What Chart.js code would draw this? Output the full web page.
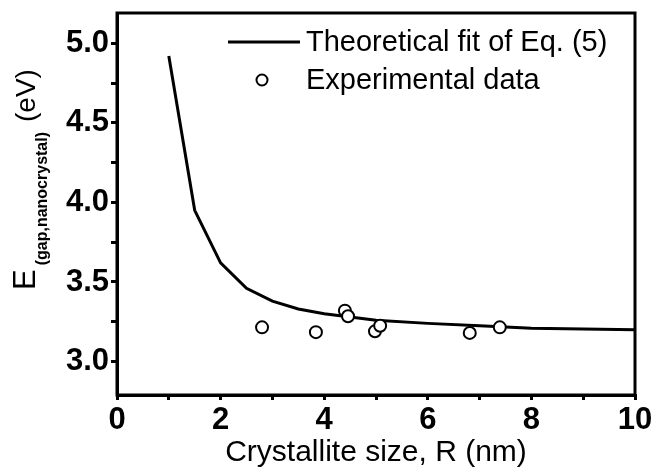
<!DOCTYPE html>
<html>
<head>
<meta charset="utf-8">
<script src="https://cdn.jsdelivr.net/npm/chart.js@4.4.0/dist/chart.umd.min.js"></script>
<style>
  html, body { margin: 0; padding: 0; background: #fff; }
  #wrap { width: 657px; height: 471px; }
</style>
</head>
<body>
<div id="wrap"><canvas id="chart" width="657" height="471"></canvas></div>
<script>
// theoretical fit (Eq. 5)
const fitR = [1, 1.5, 2, 2.5, 3, 3.5, 4, 5, 6, 7, 8, 9, 10];
const fitE = [4.92, 3.95, 3.62, 3.46, 3.38, 3.33, 3.30, 3.26, 3.24, 3.225, 3.21, 3.205, 3.20];

// experimental points
const expR = [2.8, 3.84, 4.40, 4.46, 4.98, 5.08, 6.81, 7.39];
const expE = [3.215, 3.185, 3.32, 3.285, 3.19, 3.225, 3.18, 3.215];

const xTicks = [0, 1, 2, 3, 4, 5, 6, 7, 8, 9, 10];
const yTicks = [3.0, 3.25, 3.5, 3.75, 4.0, 4.25, 4.5, 4.75, 5.0];

const legendLabels = ['Theoretical fit of Eq. (5)', 'Experimental data'];
const xTitle = 'Crystallite size, R (nm)';

const FONT = '"Liberation Sans", Arial, Helvetica, sans-serif';
let ctx = document.getElementById('chart').getContext('2d');

function toPts(xs, ys) {
    let out = [];
    for (let i = 0; i < xs.length; i++) out.push({ x: xs[i], y: ys[i] });
    return out;
}

// frame, y title with subscript, legend
const extras = {
    id: 'extras',
    afterDraw(chart) {
        const c = chart.ctx;
        const a = chart.chartArea;
        c.save();
        c.strokeStyle = '#000';
        c.lineWidth = 3;
        c.strokeRect(a.left, a.top, a.right - a.left, a.bottom - a.top);

        // y axis title: E_(gap,nanocrystal) (eV)
        c.fillStyle = '#000';
        c.translate(35, 290);
        c.rotate(-Math.PI / 2);
        c.textAlign = 'left';
        c.textBaseline = 'alphabetic';
        c.font = '31px ' + FONT;
        c.fillText('E', 0, 0);
        let w = c.measureText('E').width + 4;
        c.font = 'bold 16px ' + FONT;
        c.fillText('(gap,nanocrystal)', w, 12);
        w += c.measureText('(gap,nanocrystal)').width + 10;
        c.font = '28px ' + FONT;
        c.fillText('(eV)', w, 0);
        c.restore();

        // legend
        c.save();
        const lx = 228, ly1 = 42, ly2 = 80;
        c.strokeStyle = '#000';
        c.lineWidth = 3;
        c.beginPath();
        c.moveTo(lx, ly1);
        c.lineTo(lx + 72, ly1);
        c.stroke();
        c.lineWidth = 2;
        c.fillStyle = '#fff';
        c.beginPath();
        c.arc(lx + 34, ly2, 5.5, 0, Math.PI * 2);
        c.fill();
        c.stroke();
        c.fillStyle = '#000';
        c.font = '29px ' + FONT;
        c.textBaseline = 'middle';
        c.fillText(legendLabels[0], 306, ly1 + 1);
        c.fillText(legendLabels[1], 306, ly2 + 1);
        c.restore();
    }
};

let chart = new Chart(ctx, {
    type: 'scatter',
    data: {
        datasets: [{
            label: legendLabels[0],
            data: toPts(fitR, fitE),
            showLine: true,
            borderColor: '#000',
            borderWidth: 3,
            pointRadius: 0,
            tension: 0,
            order: 2
        }, {
            label: legendLabels[1],
            data: toPts(expR, expE),
            showLine: false,
            pointRadius: 6,
            pointBorderWidth: 2,
            pointBorderColor: '#000',
            pointBackgroundColor: '#fff',
            order: 1
        }]
    },
    options: {
        responsive: false,
        animation: false,
        layout: { padding: { top: 13, right: 22, left: 0, bottom: 0 } },
        plugins: { legend: { display: false }, tooltip: { enabled: false } },
        scales: {
            x: {
                type: 'linear',
                min: 0,
                max: 10,
                afterBuildTicks: s => { s.ticks = xTicks.map(v => ({ value: v })); },
                afterFit: s => { s.height = 76; s.paddingLeft = 0; s.paddingRight = 0; },
                border: { color: '#000', width: 3 },
                grid: { drawOnChartArea: false, color: '#000', lineWidth: 3, tickLength: 5 },
                ticks: {
                    color: '#000',
                    padding: 2,
                    maxRotation: 0,
                    font: { family: FONT, size: 31, weight: 'bold' },
                    callback: v => (v % 2 === 0 ? String(v) : '')
                },
                title: {
                    display: true,
                    text: xTitle,
                    color: '#000',
                    font: { family: FONT, size: 30 },
                    padding: { top: 0, bottom: 0 }
                }
            },
            y: {
                type: 'linear',
                min: 2.79,
                max: 5.19,
                afterBuildTicks: s => { s.ticks = yTicks.map(v => ({ value: v })); },
                afterFit: s => { s.width = 117; s.paddingTop = 0; s.paddingBottom = 0; },
                border: { color: '#000', width: 3 },
                grid: { drawOnChartArea: false, color: '#000', lineWidth: 3, tickLength: 6 },
                ticks: {
                    color: '#000',
                    padding: 2,
                    font: { family: FONT, size: 31, weight: 'bold' },
                    callback: v => (Math.abs(v * 2 - Math.round(v * 2)) < 1e-6 ? v.toFixed(1) : '')
                }
            }
        }
    },
    plugins: [extras]
});
</script>
</body>
</html>
